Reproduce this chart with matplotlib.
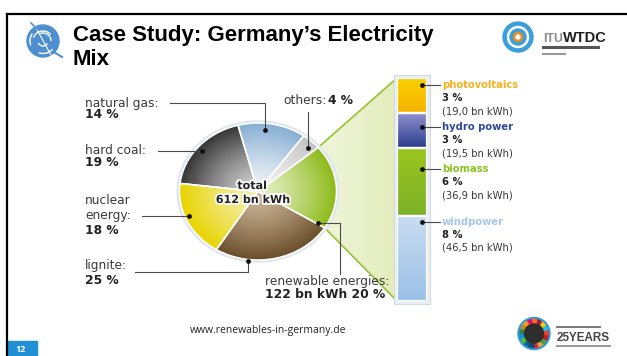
import numpy as np
import matplotlib
matplotlib.use("Agg")
from matplotlib import pyplot as plt
from matplotlib import patches
from matplotlib.colors import to_rgb
import matplotlib.patheffects as pe

# electricity mix (percent of 612 bn kWh), drawn counter-clockwise from renewables
mix_names = ["renewable energies", "others", "natural gas", "hard coal", "nuclear energy", "lignite"]
mix_share = [20, 4, 14, 19, 18, 25]
total_bn_kwh = 612
renewable_bn_kwh = 122

# breakdown of renewables, listed bottom to top of the column
ren_names = ["windpower", "biomass", "hydro power", "photovoltaics"]
ren_share = [8, 6, 3, 3]
ren_bn_kwh = [46.5, 36.9, 19.5, 19.0]

W, H = 627, 356
LABEL_FONT = "DejaVu Sans"

# radial gradients for the pie slices (centre colour, rim colour)
mix_colors = [("#e6efc4", "#8cba17"), ("#f5f5f5", "#c2c2c2"), ("#f0f4f8", "#86aed3"),
              ("#d4d4d4", "#363636"), ("#f6f0b4", "#e8d400"), ("#cdb898", "#6a4d2a")]
# vertical gradients for the column segments (bottom colour, top colour)
ren_colors = [("#9bc0e8", "#c8dcf0"), ("#7cb128", "#9ac61e"),
              ("#283c8c", "#9494cf"), ("#f6b400", "#f9d000")]
ren_text_colors = ["#a6c6ea", "#8dc21f", "#2d4b9b", "#f5b21e"]


def gradient_image(c0, c1, radial, n=200):
    a, b = np.array(to_rgb(c0)), np.array(to_rgb(c1))
    if radial:
        yy, xx = np.mgrid[-1:1:n * 1j, -1:1:n * 1j]
        t = np.clip(np.hypot(xx, yy), 0, 1) ** 1.3
    else:
        t = np.repeat(np.linspace(0, 1, n)[:, None], 2, axis=1)
    return (1 - t)[..., None] * a + t[..., None] * b


def fill_gradient(ax, patch, c0, c1, extent, radial=False):
    im = ax.imshow(gradient_image(c0, c1, radial), extent=extent, origin="lower",
                   aspect="auto", interpolation="bilinear", zorder=1)
    im.set_clip_path(patch)


fig = plt.figure(figsize=(W / 100, H / 100), dpi=100)
renderer = fig.canvas.get_renderer()

# background layer for the callout fan and column frame
bg = fig.add_axes([0, 0, 1, 1], zorder=0)
bg.set_xlim(0, W)
bg.set_ylim(H, 0)
bg.axis("off")

# pie, slightly flattened
cx, cy, rx, ry, lim = 258, 191.5, 78.5, 68.5, 1.1
ax_pie = fig.add_axes([(cx - rx * lim) / W, (H - cy - ry * lim) / H,
                       2 * rx * lim / W, 2 * ry * lim / H], zorder=1)
wedges, _ = ax_pie.pie(mix_share, startangle=-32, counterclock=True,
                       colors=[c[1] for c in mix_colors],
                       wedgeprops=dict(edgecolor="white", linewidth=1.1))
ax_pie.set_aspect("auto")
ax_pie.add_patch(patches.Circle((0, 0), 1.04, facecolor="#dfe7ee", edgecolor="none", zorder=0))
for w, (c0, c1) in zip(wedges, mix_colors):
    w.set_facecolor("none")
    w.set_zorder(2)
    fill_gradient(ax_pie, w, c0, c1, (-1, 1, -1, 1), radial=True)
ax_pie.set_xlim(-lim, lim)
ax_pie.set_ylim(-lim, lim)
ax_pie.axis("off")

# renewables column
bx0, bx1, by0, by1 = 397, 427, 78, 301
ax_bar = fig.add_axes([bx0 / W, (H - by1) / H, (bx1 - bx0) / W, (by1 - by0) / H], zorder=1)
bottoms = np.concatenate([[0], np.cumsum(ren_bn_kwh)[:-1]])
bars = ax_bar.bar(0, ren_bn_kwh, bottom=bottoms, width=1, facecolor="none",
                  edgecolor="white", linewidth=1.6, zorder=2)
for b, (c0, c1) in zip(bars, ren_colors):
    fill_gradient(ax_bar, b, c0, c1, (-0.5, 0.5, b.get_y(), b.get_y() + b.get_height()))
ax_bar.set_xlim(-0.5, 0.5)
ax_bar.set_ylim(0, sum(ren_bn_kwh))
ax_bar.axis("off")


def to_bg(ax, xy):
    return bg.transData.inverted().transform(ax.transData.transform(xy))


# fan from the renewables slice to the column
t1, t2 = np.radians(wedges[0].theta1), np.radians(wedges[0].theta2)
p_low = to_bg(ax_pie, (np.cos(t1), np.sin(t1)))
p_up = to_bg(ax_pie, (np.cos(t2), np.sin(t2)))
c_top = to_bg(ax_bar, (-0.5, sum(ren_bn_kwh)))
c_bot = to_bg(ax_bar, (-0.5, 0))
ctr = to_bg(ax_pie, (0, 0))
fan = patches.Polygon([ctr, p_up, c_top, c_bot, p_low], closed=True,
                      facecolor="none", edgecolor="none")
bg.add_patch(fan)
fan_img = np.array([np.linspace(0, 1, 100)] * 2)[..., None]
fan_img = (1 - fan_img) * np.array(to_rgb("#fbfdf4")) + fan_img * np.array(to_rgb("#e3ecbc"))
im = bg.imshow(fan_img, extent=(ctr[0], c_top[0], c_bot[1], c_top[1]), aspect="auto",
               interpolation="bilinear", zorder=0)
im.set_clip_path(fan)
for p, c in [(p_up, c_top), (p_low, c_bot)]:
    bg.plot([p[0], c[0]], [p[1], c[1]], color="#9cc43c", lw=1.3, zorder=1)
bg.add_patch(patches.Rectangle((bx0 - 3, by0 - 3), bx1 - bx0 + 6, by1 - by0 + 6,
                               facecolor="#eaeff4", edgecolor="#d3dbe3", lw=0.8, zorder=2))
bg.set_xlim(0, W)
bg.set_ylim(H, 0)

# overlay for text, leader lines and slide furniture
ov = fig.add_axes([0, 0, 1, 1], zorder=3)
ov.patch.set_visible(False)
ov.set_xlim(0, W)
ov.set_ylim(H, 0)
ov.axis("off")


def text_fit(x0, x1, y, s, size, **kw):
    """Place text starting at x0 and shrink it until it ends before x1."""
    t = ov.text(x0, y, s, fontsize=size, **kw)
    width = t.get_window_extent(renderer).width
    if width > x1 - x0:
        t.set_fontsize(size * (x1 - x0) / width)
    return t


# slide frame and title
ov.plot([7, W], [13.5, 13.5], color="black", lw=1.6)
ov.plot([7, 7], [13.5, H], color="black", lw=1.6)
title = dict(fontsize=16, fontweight="bold", family="Liberation Sans", va="baseline",
             ha="left", color="black")
ov.text(73, 41, "Case Study: Germany\u2019s Electricity", **title)
ov.text(73, 65, "Mix", **title)

# ITU globe
gx, gy = 43, 41
ov.add_patch(patches.Circle((gx, gy), 16, color="#4d8fd1"))
for r, a0, a1 in [(10, 200, 320), (5, 30, 160), (12.5, 40, 110), (8, 250, 360), (13, 160, 215)]:
    ov.add_patch(patches.Arc((gx, gy), 2 * r, 2 * r, theta1=a0, theta2=a1, color="white", lw=1.0))
ov.plot([gx - 8, gx + 8], [gy - 15, gy + 14], color="white", lw=0.8)
ov.plot([gx - 12, gx - 6], [gy - 18, gy - 12], color="#4d8fd1", lw=1.2)
ov.plot([gx + 11, gx + 19], [gy + 11, gy + 16], color="#4d8fd1", lw=1.5)

# ITU WTDC logo
ov.add_patch(patches.Circle((518, 37), 15, color="#3a9fdc"))
ov.add_patch(patches.Circle((518, 37), 10.5, color="white"))
ov.add_patch(patches.Circle((518, 37), 8, color="#3a9fdc"))
ov.add_patch(patches.Circle((518, 37), 4.5, color="#f08a1e"))
ov.add_patch(patches.Circle((518, 37), 2, color="white"))
logo = dict(fontweight="bold", family="Liberation Sans", va="baseline")
itu = text_fit(543, 563, 41.5, "ITU", 10.5, color="#8a8a8a", **logo)
itu_end = ov.transData.inverted().transform(
    (itu.get_window_extent(renderer).x1, 0))[0]
text_fit(itu_end + 0.5, 610, 41.5, "WTDC", 10.5, color="#1e1e1e", **logo)
ov.plot([543, 598], [47, 47], color="#555555", lw=2.2)
ov.plot([543, 565], [53.5, 53.5], color="#999999", lw=1.5)

# 25 years logo
sdg = ["#e5243b", "#dda63a", "#4c9f38", "#c5192d", "#ff3a21", "#26bde2", "#fcc30b",
       "#a21942", "#fd6925", "#dd1367", "#fd9d24", "#bf8b2e", "#3f7e44", "#0a97d9",
       "#56c02b", "#00689d", "#19486a"]
lx, ly = 534, 333.5
ov.add_patch(patches.Circle((lx, ly), 16, color="#2d9ad8"))
for i, c in enumerate(sdg):
    ov.add_patch(patches.Wedge((lx, ly), 14, 90 - (i + 1) * 360 / len(sdg),
                               90 - i * 360 / len(sdg), width=4.5, color=c))
ov.add_patch(patches.Circle((lx, ly), 9.5, color="#2e2e2e"))
text_fit(557, 610, 341, "25YEARS", 10, color="#444444", **logo)
ov.plot([557, 600], [327, 327], color="#777777", lw=1.4)
ov.plot([557, 610], [346, 346], color="#999999", lw=1.4)

# footer
ov.text(268, 330, "www.renewables-in-germany.de", fontsize=7.5, family="Open Sans",
        ha="center", va="center", color="#222222")
ov.add_patch(patches.Rectangle((7, 341), 30, 15, color="#1f8fd6"))
ov.text(21, 349, "12", fontsize=6.5, fontweight="bold", color="white",
        ha="center", va="center", family="Open Sans")

# pie labels and leader lines
lab = dict(fontsize=8.8, family=LABEL_FONT, color="#3a3a3a", va="center", ha="left")
bold = dict(lab, fontweight="bold", color="#222222")
share = dict(zip(mix_names, mix_share))
ov.text(85, 103, "natural gas:", **lab)
ov.text(85, 115, f"{share['natural gas']} %", **bold)
ov.text(85, 151, "hard coal:", **lab)
ov.text(85, 163, f"{share['hard coal']} %", **bold)
ov.text(85, 201, "nuclear", **lab)
ov.text(85, 216, "energy:", **lab)
ov.text(85, 230, f"{share['nuclear energy']} %", **bold)
ov.text(85, 266, "lignite:", **lab)
ov.text(85, 280, f"{share['lignite']} %", **bold)
ov.text(283, 100, "others:", **lab)
ov.text(353, 100, f"{share['others']} %", **dict(bold, ha="right"))
ov.text(265, 282, "renewable energies:", **lab)
ov.text(265, 294, f"{renewable_bn_kwh} bn kWh {share['renewable energies']} %", **bold)

halo = [pe.withStroke(linewidth=2.5, foreground="white")]
ov.text(252, 186, "total", fontsize=8, fontweight="bold", family=LABEL_FONT,
        ha="center", va="center", color="#222222", path_effects=halo)
ov.text(253, 200, f"{total_bn_kwh} bn kWh", fontsize=8, fontweight="bold", family=LABEL_FONT,
        ha="center", va="center", color="#222222", path_effects=halo)

leaders = [
    [(170, 103), (265, 103), (265, 130)],
    [(158, 151), (202, 151)],
    [(142, 216), (189, 216)],
    [(135, 272), (248, 272), (248, 261)],
    [(308, 112), (308, 148)],
    [(340, 274), (340, 223), (318, 223)],
]
for pts in leaders:
    xs, ys = zip(*pts)
    ov.plot(xs, ys, color="#4a4a4a", lw=0.8)
dots = [(265, 130), (202, 151), (189, 216), (248, 261), (308, 148), (318, 223)]
ov.scatter(*zip(*dots), s=6, color="#111111", zorder=5)

# renewables column labels
col_lab = dict(lab, fontsize=7.2)
col_bold = dict(bold, fontsize=7.2)
label_y = [222, 169, 127, 85]
for name, pct, val, col, y in zip(ren_names, ren_share, ren_bn_kwh, ren_text_colors, label_y):
    ov.plot([422, 440], [y, y], color="#4a4a4a", lw=0.8)
    ov.scatter([422], [y], s=6, color="#111111", zorder=5)
    ov.text(442, y, name, **dict(col_bold, color=col))
    ov.text(442, y + 13, f"{pct} %", **col_bold)
    ov.text(442, y + 26, f"({val:.1f} bn kWh)".replace(".", ","), **col_lab)

fig.savefig("out.png", dpi=100)
